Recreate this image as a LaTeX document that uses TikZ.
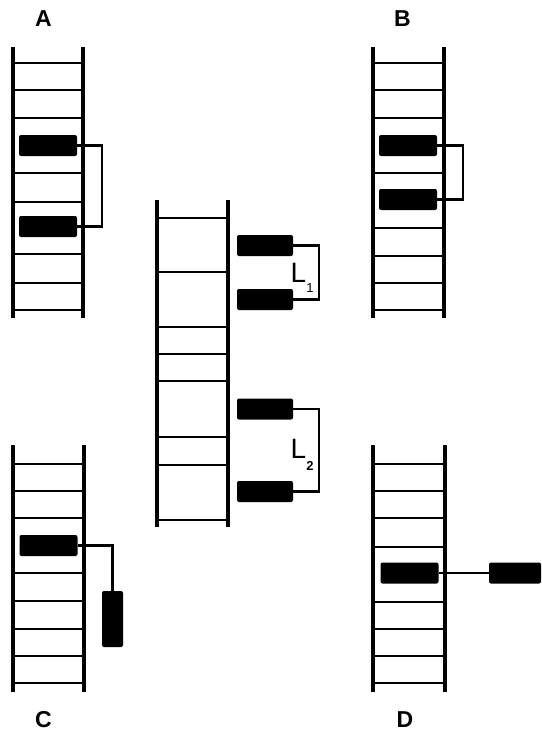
\documentclass[tikz,border=0pt]{standalone}
\usepackage{fontspec}
\setmainfont{Liberation Sans}
\begin{document}
\begin{tikzpicture}[x=1pt,y=-1pt,
  rail/.style={line width=3.4pt},
  rung/.style={line width=2.8pt},
  gene/.style={fill=black, rounded corners=2pt, inner sep=0pt, minimum width=58pt, minimum height=21pt},
  vgene/.style={gene, minimum width=21pt, minimum height=56pt},
  link/.style={line width=2.2pt},
  lab/.style={font=\fontsize{23}{23}\selectfont\bfseries, inner sep=0pt},
  llab/.style={font=\fontsize{28}{28}\selectfont, inner sep=0pt, anchor=base west}]
\useasboundingbox (0,0) rectangle (541,733);
% ---- ladder A
\foreach \y in {63,90,118,173,202,254,283,310} \draw[rung] (13,\y) -- (83,\y);
\draw[rail] (13,47) -- (13,318) (83,47) -- (83,318);
\node[gene] (a1) at (48,145.5) {};
\node[gene] (a2) at (48,226.5) {};
\draw[link] (a1.east) -- ++(25,0) |- (a2.east);
\node[lab] (la) at (43.5,18.5) {A};
% ---- ladder B
\foreach \y in {63,90,118,173,228,256,283,310} \draw[rung] (373,\y) -- (444,\y);
\draw[rail] (373,47) -- (373,318) (444,47) -- (444,318);
\node[gene] (b1) at (408,145.5) {};
\node[gene] (b2) at (408,199.5) {};
\draw[link] (b1.east) -- ++(26,0) |- (b2.east);
\node[lab] (lb) at (402.5,18.5) {B};
% ---- centre ladder
\foreach \y in {218,272,327,354,381,437,465,520} \draw[rung] (157,\y) -- (228,\y);
\draw[rail] (157,200) -- (157,527) (228,200) -- (228,527);
\node[gene, minimum width=56pt] (m1) at (265,245.5) {};
\node[gene, minimum width=56pt] (m2) at (265,299.5) {};
\node[gene, minimum width=56pt] (m3) at (265,409) {};
\node[gene, minimum width=56pt] (m4) at (265,491.5) {};
\draw[link] (m1.east) -- ++(26,0) |- (m2.east);
\draw[link] (m3.east) -- ++(26,0) |- (m4.east);
\node[llab] (l1) at (290.5,282) {L\raisebox{-10pt}{\fontsize{13}{13}\selectfont 1}};
\node[llab] (l2) at (290.5,458) {L\raisebox{-12pt}{\fontsize{13}{13}\selectfont\bfseries 2}};
% ---- ladder C
\foreach \y in {464,491,518,573,601,629,656,683} \draw[rung] (13,\y) -- (84,\y);
\draw[rail] (13,445) -- (13,692) (84,445) -- (84,692);
\node[gene] (c1) at (48.5,545.5) {};
\node[vgene] (c2) at (112.5,619) {};
\draw[link] (c1.east) -| (c2.north);
\node[lab] (lc) at (43.5,720) {C};
% ---- ladder D
\foreach \y in {464,491,518,547,602,629,656,683} \draw[rung] (373,\y) -- (445,\y);
\draw[rail] (373,445) -- (373,692) (445,445) -- (445,692);
\node[gene] (d1) at (409.5,573) {};
\node[gene, minimum width=52pt] (d2) at (515,573) {};
\draw[link] (d1.east) -- (d2.west);
\node[lab] (ld) at (405,720) {D};
\end{tikzpicture}
\end{document}
